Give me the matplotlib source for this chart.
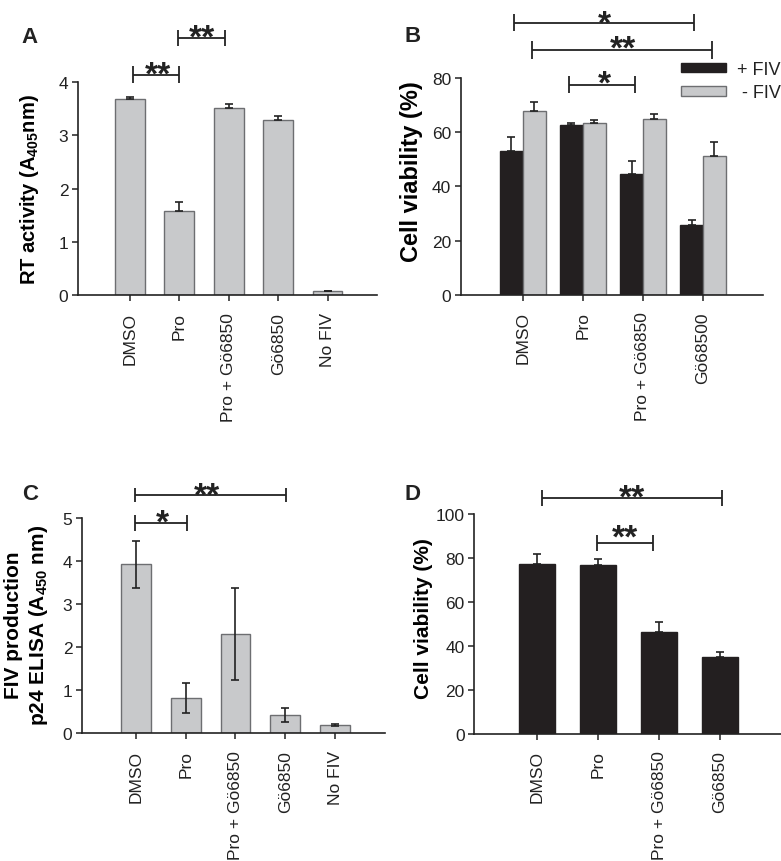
import numpy as np
import matplotlib
matplotlib.use("Agg")
import matplotlib.pyplot as plt
from matplotlib.patches import Patch

plt.rcParams['font.family'] = ['Liberation Sans', 'DejaVu Sans']
plt.rcParams['mathtext.default'] = 'regular'

# ---- data ----
# A: RT activity
a_labels = ["DMSO", "Pro", "Pro + Gö6850", "Gö6850", "No FIV"]
a_vals = [3.69, 1.58, 3.52, 3.28, 0.07]
a_err = [0.03, 0.17, 0.06, 0.08, 0.01]

# B: cell viability +/- FIV
b_labels = ["DMSO", "Pro", "Pro + Gö6850", "Gö68500"]
b_fiv = [53.2, 62.5, 44.7, 25.6]
b_fiv_err = [5.0, 0.8, 4.5, 2.1]
b_nofiv = [68.0, 63.4, 64.7, 51.3]
b_nofiv_err = [3.0, 1.2, 1.9, 5.2]

# C: p24 ELISA
c_labels = ["DMSO", "Pro", "Pro + Gö6850", "Gö6850", "No FIV"]
c_vals = [3.92, 0.81, 2.30, 0.42, 0.19]
c_err = [0.55, 0.35, 1.07, 0.16, 0.02]

# D: cell viability
d_labels = ["DMSO", "Pro", "Pro + Gö6850", "Gö6850"]
d_vals = [77.1, 76.7, 46.1, 35.0]
d_err = [4.6, 2.8, 4.7, 2.1]

GRAY = '#c8c9cb'
GRAY_EDGE = '#6d6e71'
BLACK = '#231f20'
INK = '#222222'

W, H = 781, 862
fig = plt.figure(figsize=(W / 100, H / 100), dpi=100)


def make_ax(left, right, top, bottom):
    # pixel box -> figure fraction
    return fig.add_axes([left / W, 1 - bottom / H, (right - left) / W, (bottom - top) / H])


def style(ax, labels, xlim, ylim, yticks):
    for s in ['top', 'right']:
        ax.spines[s].set_visible(False)
    for s in ['left', 'bottom']:
        ax.spines[s].set_linewidth(1.2)
        ax.spines[s].set_color(INK)
    ax.set_xlim(*xlim)
    ax.set_ylim(*ylim)
    ax.set_yticks(yticks)
    ax.set_xticks(range(len(labels)))
    ax.set_xticklabels(labels, rotation=90)
    ax.tick_params(axis='both', direction='out', length=4, width=1.1, color=INK,
                   labelsize=12.5, labelcolor=INK)
    ax.tick_params(axis='x', pad=8)
    ax.tick_params(axis='y', pad=3)


def sig(ax, x1, x2, y, ytop, ybot, text, tx, ty):
    kw = dict(color=INK, lw=1.3, clip_on=False, solid_capstyle='butt')
    ax.plot([x1, x2], [y, y], **kw)
    ax.plot([x1, x1], [ybot, ytop], **kw)
    ax.plot([x2, x2], [ybot, ytop], **kw)
    ax.text(tx, ty, text, ha='center', va='baseline', fontsize=24,
            fontweight='bold', color=INK, clip_on=False)


ekw = dict(ecolor=INK, elinewidth=1.2, capsize=3, capthick=1.2)

# ---- A ----
axA = make_ax(78, 377, 83, 296)
x = np.arange(len(a_labels))
axA.bar(x, a_vals, 0.6, color=GRAY, edgecolor=GRAY_EDGE, linewidth=1,
        yerr=[np.zeros(len(a_err)), a_err], error_kw=ekw)
style(axA, a_labels, (-1.05, 5.0), (0, 4), [0, 1, 2, 3, 4])
axA.set_ylabel("RT activity (A$_{405}$nm)", fontsize=14.5, fontweight='bold')
axA.yaxis.set_label_coords(-0.125, 0.5)
sig(axA, 0.065, 0.986, 4.137, 4.295, 3.98, "**", 0.566, 3.98)
sig(axA, 0.974, 1.915, 4.82, 4.98, 4.67, "**", 1.459, 4.66)

# ---- B ----
axB = make_ax(461, 763, 79, 295.7)
x = np.arange(len(b_labels))
bw = 0.38
axB.bar(x - bw / 2, b_fiv, bw, color=BLACK, edgecolor=BLACK, linewidth=1,
        yerr=[np.zeros(len(b_fiv_err)), b_fiv_err], error_kw=ekw, label='+ FIV')
axB.bar(x + bw / 2, b_nofiv, bw, color=GRAY, edgecolor=GRAY_EDGE, linewidth=1,
        yerr=[np.zeros(len(b_nofiv_err)), b_nofiv_err], error_kw=ekw, label=' - FIV')
style(axB, b_labels, (-1.03, 4.0), (0, 80), [0, 20, 40, 60, 80])
axB.set_ylabel("Cell viability (%)", fontsize=17, fontweight='bold')
axB.yaxis.set_label_coords(-0.126, 0.572)
sig(axB, -0.145, 2.843, 100.2, 103.6, 97.2, "*", 1.358, 96.6)
sig(axB, 0.16, 3.155, 90.3, 93.7, 87.1, "**", 1.663, 87.4)
sig(axB, 0.772, 1.86, 77.5, 80.7, 74.5, "*", 1.358, 74.5)
handles = [Patch(facecolor=BLACK, edgecolor=BLACK), Patch(facecolor=GRAY, edgecolor=GRAY_EDGE)]
fig.legend(handles, ['+ FIV', ' - FIV'], loc='upper left',
           bbox_to_anchor=(681 / W, 1 - 62 / H), frameon=False, fontsize=13,
           handlelength=2.5, handleheight=0.42, handletextpad=0.6,
           labelspacing=0.35, borderpad=0, borderaxespad=0, labelcolor=INK)

# ---- C ----
axC = make_ax(82, 385, 518.7, 734.3)
x = np.arange(len(c_labels))
axC.bar(x, c_vals, 0.6, color=GRAY, edgecolor=GRAY_EDGE, linewidth=1,
        yerr=c_err, error_kw=ekw)
style(axC, c_labels, (-1.08, 5.0), (0, 5), [0, 1, 2, 3, 4, 5])
axC.set_ylabel("FIV production\np24 ELISA (A$_{450}$ nm)", fontsize=15,
               fontweight='bold', linespacing=1.25)
axC.yaxis.set_label_coords(-0.106, 0.505)
sig(axC, -0.014, 3.006, 5.53, 5.70, 5.355, "**", 1.423, 5.30)
sig(axC, -0.014, 1.034, 4.875, 5.06, 4.68, "*", 0.543, 4.68)

# ---- D ----
axD = make_ax(474.3, 781, 514.7, 734.7)
x = np.arange(len(d_labels))
axD.bar(x, d_vals, 0.6, color=BLACK, edgecolor=BLACK, linewidth=1,
        yerr=[np.zeros(len(d_err)), d_err], error_kw=ekw)
style(axD, d_labels, (-1.03, 4.0), (0, 100), [0, 20, 40, 60, 80, 100])
axD.set_ylabel("Cell viability (%)", fontsize=15, fontweight='bold')
axD.yaxis.set_label_coords(-0.136, 0.526)
sig(axD, 0.077, 3.028, 107.1, 110.9, 103.6, "**", 1.552, 103.4)
sig(axD, 0.989, 1.907, 86.5, 90.3, 83.0, "**", 1.437, 85.2)

# panel letters
for letter, px, py in [("A", 21.7, 43.3), ("B", 405, 41.7), ("C", 21.7, 500), ("D", 405, 500)]:
    fig.text(px / W, 1 - py / H, letter, fontsize=16, fontweight='bold',
             ha='left', va='baseline', color=INK)

fig.savefig("out.png", dpi=100)
